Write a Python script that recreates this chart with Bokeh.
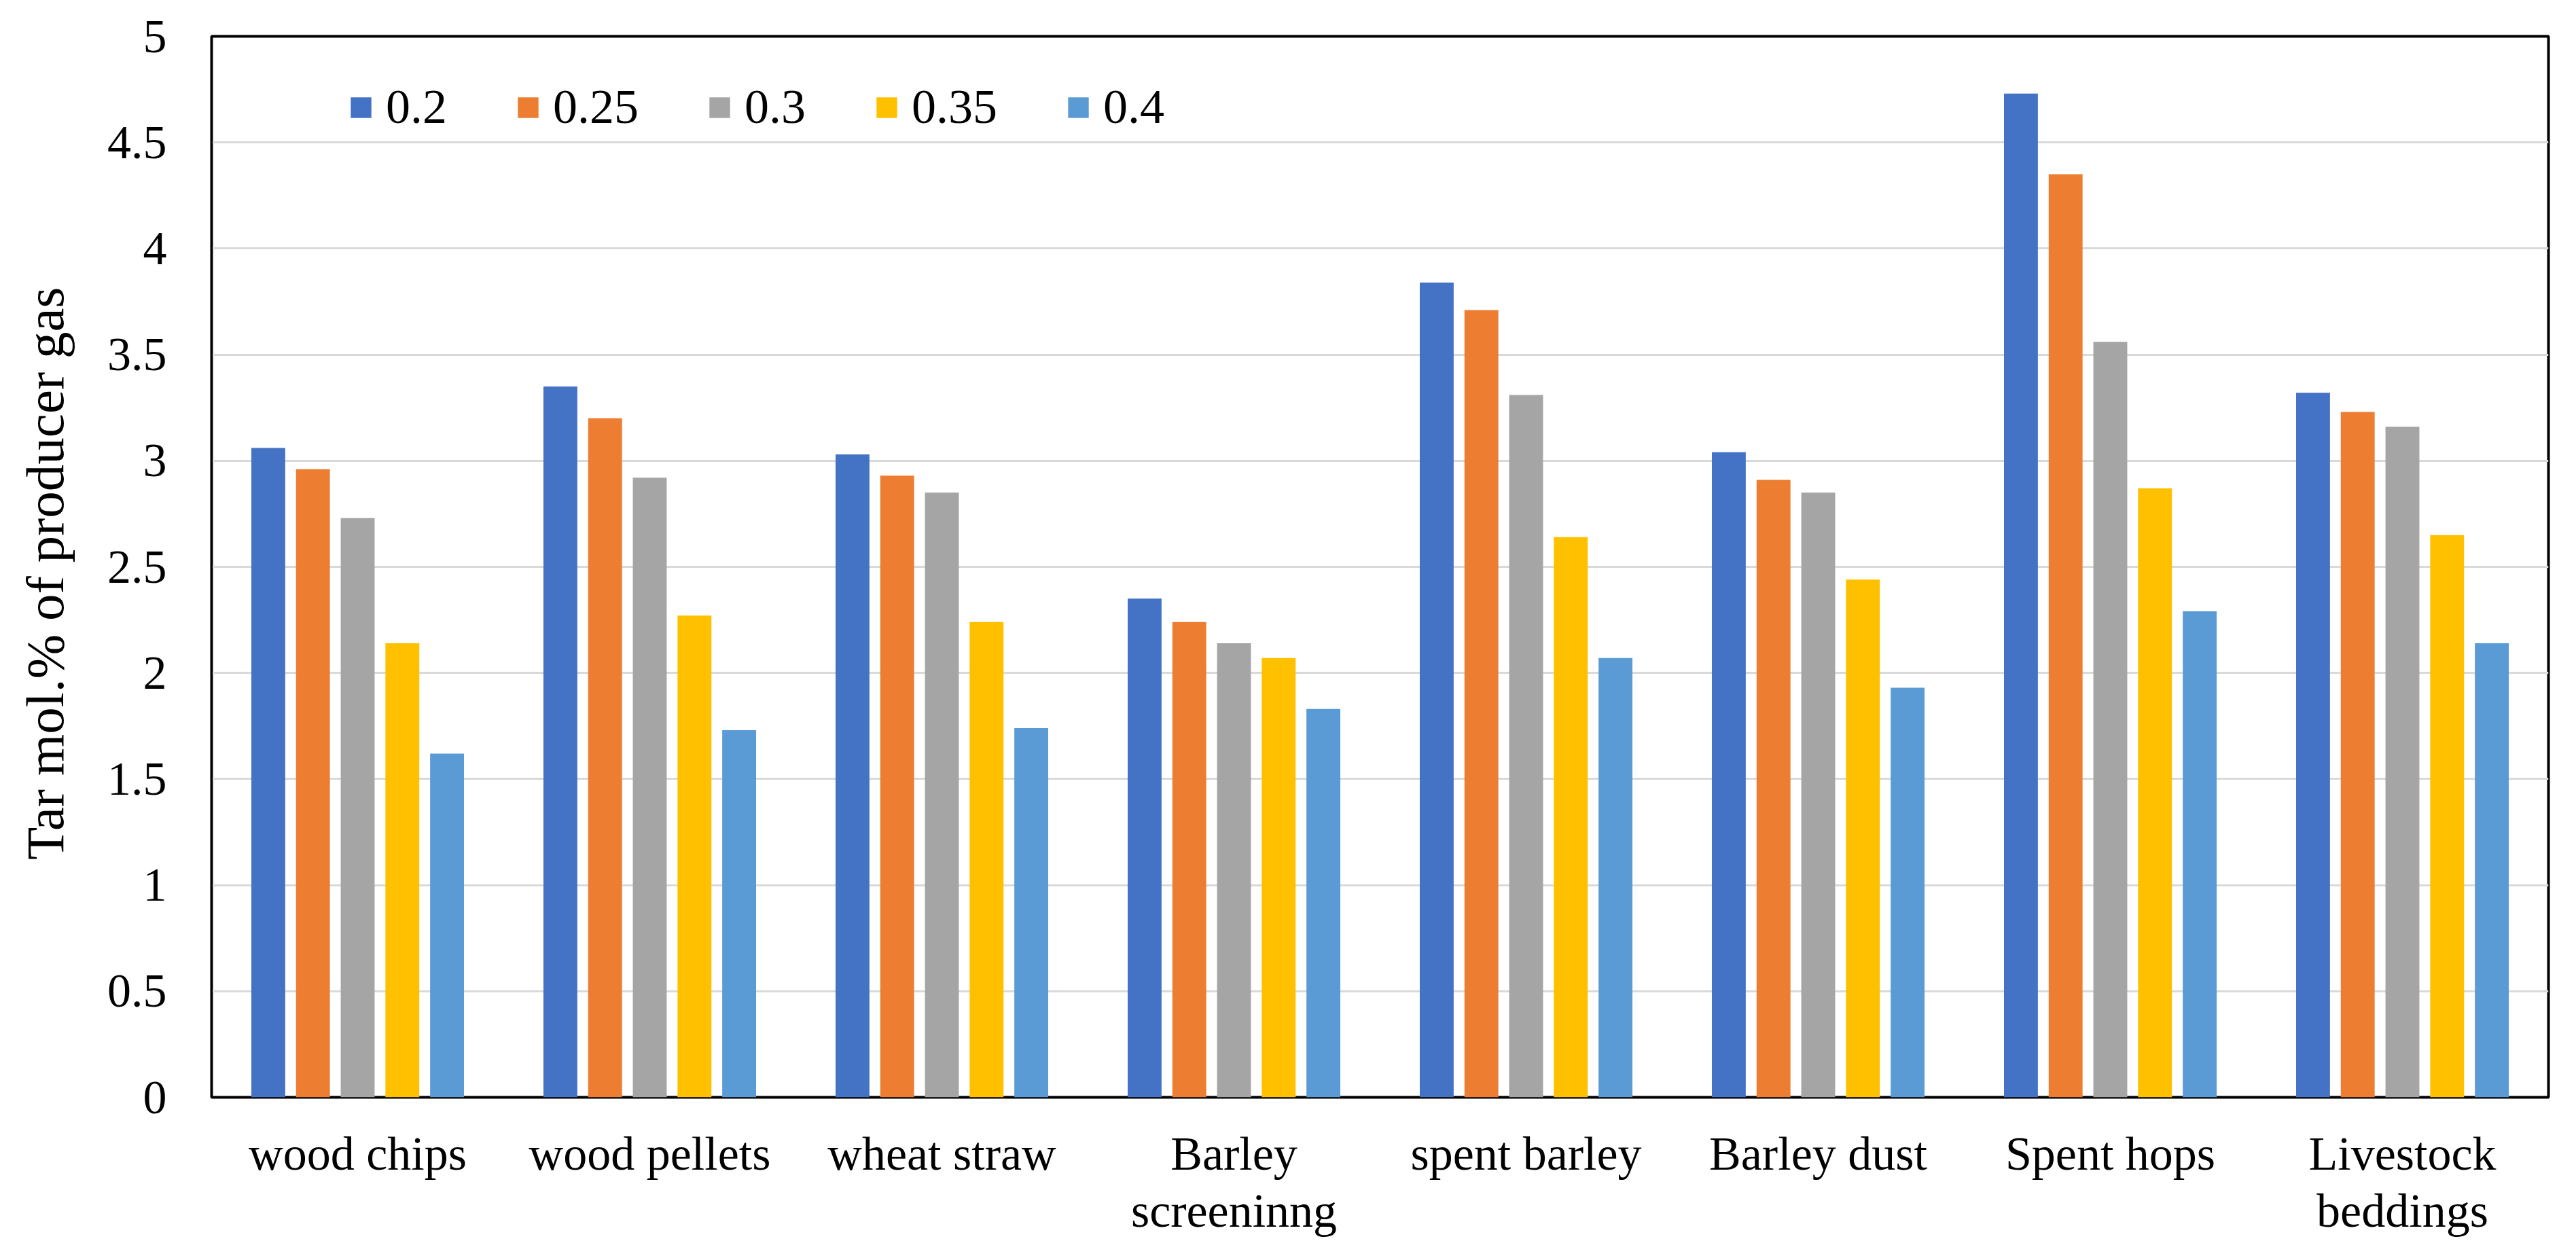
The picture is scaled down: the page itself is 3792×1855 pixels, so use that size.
from bokeh.plotting import figure
from bokeh.layouts import column
from bokeh.models import (ColumnDataSource, FactorRange, Range1d, FixedTicker,
                          Legend, LegendItem)
from bokeh.core.properties import value
from bokeh.transform import dodge
from bokeh.embed import file_html
from bokeh.resources import INLINE

categories = ["wood chips", "wood pellets", "wheat straw", "Barley screeninng",
              "spent barley", "Barley dust", "Spent hops", "Livestock beddings"]
category_labels = ["wood chips", "wood pellets", "wheat straw", "Barley\nscreeninng",
                   "spent barley", "Barley dust", "Spent hops", "Livestock\nbeddings"]
series_names = ["0.2", "0.25", "0.3", "0.35", "0.4"]
s_020 = [3.06, 3.35, 3.03, 2.35, 3.84, 3.04, 4.73, 3.32]
s_025 = [2.96, 3.20, 2.93, 2.24, 3.71, 2.91, 4.35, 3.23]
s_030 = [2.73, 2.92, 2.85, 2.14, 3.31, 2.85, 3.56, 3.16]
s_035 = [2.14, 2.27, 2.24, 2.07, 2.64, 2.44, 2.87, 2.65]
s_040 = [1.62, 1.73, 1.74, 1.83, 2.07, 1.93, 2.29, 2.14]
y_ticks = [0, 0.5, 1, 1.5, 2, 2.5, 3, 3.5, 4, 4.5, 5]
y_tick_labels = ["0", "0.5", "1", "1.5", "2", "2.5", "3", "3.5", "4", "4.5", "5"]

colors = ["#4472C4", "#ED7D31", "#A5A5A5", "#FFC000", "#5B9BD5"]
offsets = [-0.306, -0.153, 0.0, 0.153, 0.306]
bar_w = 0.116
FONT = "Liberation Serif"

W = 3776
H_MAIN = 1655
H_LAB = 184
LAB_TOP = 180  # label strip: y range 0..H_LAB, text hangs from here

series_values = [s_020, s_025, s_030, s_035, s_040]
data = {"cat": categories}
keys = []
for i, vals in enumerate(series_values):
    k = "s%d" % i
    data[k] = vals
    keys.append(k)
source = ColumnDataSource(data)

p = figure(x_range=FactorRange(*categories, range_padding=0), y_range=Range1d(0, 5),
           width=W, height=H_MAIN, output_backend="svg", toolbar_location=None,
           min_border_left=311, min_border_right=25, min_border_top=53,
           min_border_bottom=40)

renderers = []
for k, off, c in zip(keys, offsets, colors):
    r = p.vbar(x=dodge("cat", off, range=p.x_range), top=k, width=bar_w, bottom=0,
               source=source, fill_color=c, line_color=None)
    renderers.append(r)

p.outline_line_color = "black"
p.outline_line_width = 4
p.background_fill_color = "white"
p.border_fill_color = "white"

p.xgrid.grid_line_color = None
p.ygrid.grid_line_color = "#D9D9D9"
p.ygrid.grid_line_width = 3

p.yaxis.ticker = FixedTicker(ticks=y_ticks)
p.yaxis.major_label_overrides = {t: l for t, l in zip(y_ticks, y_tick_labels)}
p.yaxis.major_tick_line_color = None
p.yaxis.minor_tick_line_color = None
p.yaxis.major_tick_out = 0
p.yaxis.major_label_standoff = 66
p.yaxis.major_label_text_font = FONT
p.yaxis.major_label_text_font_size = "70px"
p.yaxis.major_label_text_color = "black"
p.yaxis.axis_line_color = "black"
p.yaxis.axis_line_width = 3
p.yaxis.axis_label = "Tar  mol.% of producer gas"
p.yaxis.axis_label_text_font = FONT
p.yaxis.axis_label_text_font_size = "79px"
p.yaxis.axis_label_text_font_style = "normal"
p.yaxis.axis_label_text_color = "black"
p.yaxis.axis_label_standoff = 45

p.xaxis.visible = False

items = [LegendItem(label=n, renderers=[r]) for n, r in zip(series_names, renderers)]
legend = Legend(items=items, orientation="horizontal", location=(201, 1416),
                glyph_width=38, glyph_height=38, label_standoff=18, spacing=100,
                label_text_font=FONT, label_text_font_size="72px",
                label_text_color="black", padding=0, margin=0,
                border_line_color=None, background_fill_alpha=0)
p.add_layout(legend, "center")

# category label strip sharing the bar chart's x range
label_source = ColumnDataSource({"cat": categories, "text": category_labels,
                                 "y": [LAB_TOP] * len(categories)})
p2 = figure(x_range=p.x_range, y_range=Range1d(0, H_LAB), width=W, height=H_LAB,
            output_backend="svg", toolbar_location=None,
            min_border_left=311, min_border_right=25, min_border_top=0,
            min_border_bottom=0)
p2.text(x="cat", y="y", text="text", source=label_source,
        text_font=value(FONT), text_font_size="70px", text_color="black",
        text_align="center", text_baseline="top", text_line_height=1.1)
p2.xaxis.visible = False
p2.yaxis.visible = False
p2.grid.grid_line_color = None
p2.outline_line_color = None
p2.background_fill_color = "white"
p2.border_fill_color = "white"

layout = column(p, p2, spacing=0)
open("out.html", "w").write(file_html(layout, INLINE))
